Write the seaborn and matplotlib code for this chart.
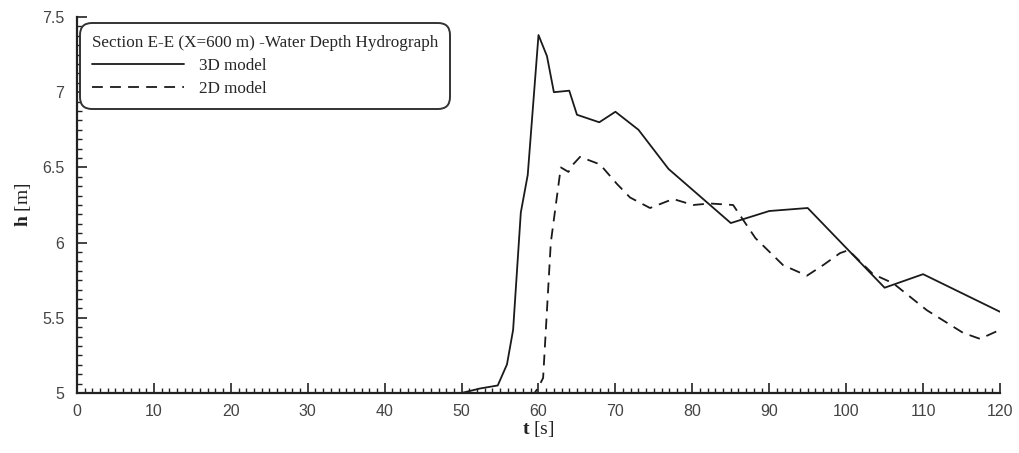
import matplotlib
matplotlib.use("Agg")
import matplotlib.pyplot as plt
from matplotlib.ticker import MultipleLocator, FormatStrFormatter
import seaborn as sns
import numpy as np

# ---- data ----
t_3d = [0, 50, 52.4, 54.7, 55.9, 56.7, 57.7, 58.6, 60.0, 61.1, 62.0, 64.0, 65.0,
        67.9, 70.0, 73.0, 76.9, 85.0, 90.0, 95.0, 105.0, 110.0, 120.0]
h_3d = [5.0, 5.0, 5.03, 5.05, 5.19, 5.42, 6.2, 6.45, 7.38, 7.24, 7.0, 7.01, 6.85,
        6.80, 6.87, 6.75, 6.49, 6.13, 6.21, 6.23, 5.70, 5.79, 5.54]

t_2d = [0, 59.5, 60.0, 60.6, 61.6, 62.9, 63.9, 64.5, 65.4, 68.0, 70.2, 71.9, 74.5,
        77.5, 80.1, 82.3, 85.3, 88.2, 91.8, 94.9, 97.0, 99.2, 100.3, 103.5, 106.1,
        110.5, 115.2, 117.4, 120.0]
h_2d = [5.0, 5.0, 5.04, 5.10, 6.0, 6.50, 6.47, 6.52, 6.57, 6.52, 6.39, 6.30, 6.23,
        6.29, 6.25, 6.26, 6.25, 6.03, 5.85, 5.78, 5.85, 5.93, 5.95, 5.79, 5.73,
        5.55, 5.40, 5.36, 5.42]

series_labels = ["3D model", "2D model"]
legend_title = "Section E-E (X=600 m) -Water Depth Hydrograph"
x_ticks = [0, 10, 20, 30, 40, 50, 60, 70, 80, 90, 100, 110, 120]
y_ticks = [5, 5.5, 6, 6.5, 7, 7.5]

# ---- style ----
sns.set_theme(style="ticks")
plt.rcParams["font.family"] = ["Liberation Sans", "DejaVu Sans"]
plt.rcParams["mathtext.fontset"] = "custom"
plt.rcParams["mathtext.rm"] = "Liberation Serif"
plt.rcParams["mathtext.bf"] = "Liberation Serif:bold"

fig = plt.figure(figsize=(10.2, 4.53), dpi=100)
ax = fig.add_axes([77 / 1020, 1 - 393 / 453, (1000 - 77) / 1020, (393 - 17) / 453])

sns.lineplot(x=t_3d, y=h_3d, ax=ax, color="#1a1a1a", linewidth=1.3,
             estimator=None, sort=False, label=series_labels[0])
sns.lineplot(x=t_2d, y=h_2d, ax=ax, color="#1a1a1a", linewidth=1.3,
             estimator=None, sort=False, label=series_labels[1])
ax.lines[1].set_dashes((6, 4))

ax.set_xlim(0, 120)
ax.set_ylim(5, 7.5)
ax.set_xticks(x_ticks)
ax.set_yticks(y_ticks)
ax.xaxis.set_minor_locator(MultipleLocator(1))
ax.yaxis.set_minor_locator(MultipleLocator(0.0625))
ax.yaxis.set_major_formatter(FormatStrFormatter("%g"))

for s in ["top", "right"]:
    ax.spines[s].set_visible(False)
for s in ["left", "bottom"]:
    ax.spines[s].set_color("#222222")
    ax.spines[s].set_linewidth(1.6)

ax.tick_params(which="major", direction="in", length=7, width=1.2, color="#222222",
               labelsize=11.5, labelcolor="#444444")
ax.tick_params(which="minor", direction="in", length=3.5, width=1.0, color="#222222")
ax.tick_params(axis="y", which="major", pad=9)
ax.tick_params(axis="x", which="major", pad=8)

ax.set_xlabel(r"$\mathbf{t}$ [s]", fontfamily="Liberation Serif", fontsize=14,
              color="#222222", labelpad=0)
ax.set_ylabel(r"$\mathbf{h}$ [m]", fontfamily="Liberation Serif", fontsize=14,
              color="#222222", labelpad=7)

leg = ax.legend(title=legend_title, loc="upper left",
                bbox_to_anchor=(80 / 1020, 1 - 23 / 453),
                bbox_transform=fig.transFigure, borderaxespad=0,
                prop={"family": "Liberation Serif", "size": 12.3},
                title_fontproperties={"family": "Liberation Serif", "size": 12.3},
                alignment="left", handlelength=5.4, handletextpad=0.85,
                fancybox=True, framealpha=1, labelspacing=0.4,
                borderpad=0.7)
frame = leg.get_frame()
frame.set_edgecolor("#333333")
frame.set_linewidth(1.4)
frame.set_boxstyle("round", pad=0, rounding_size=0.7)

fig.savefig("out.png", dpi=100)
